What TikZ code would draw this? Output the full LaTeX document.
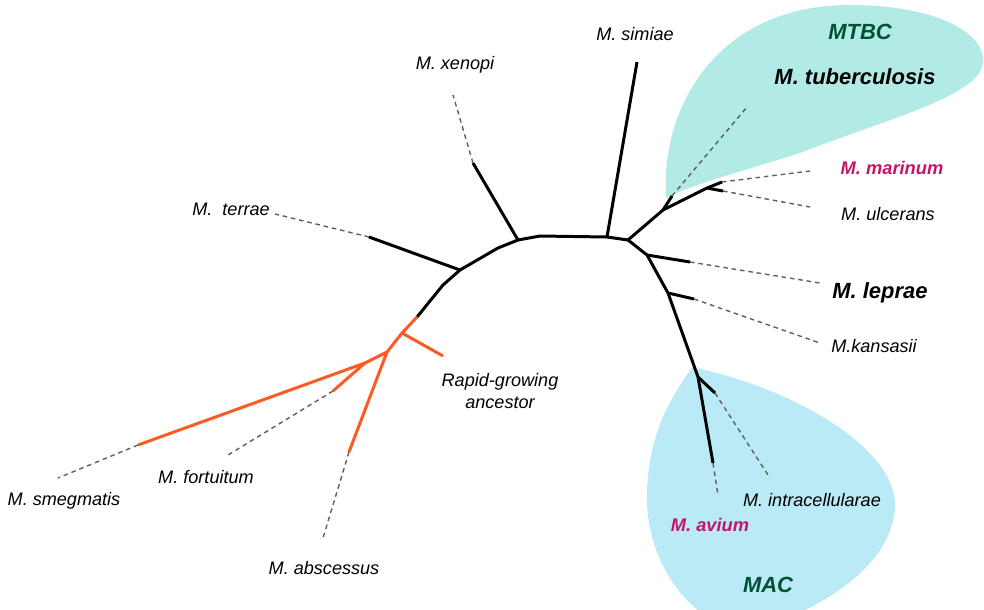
\documentclass[tikz,border=0pt]{standalone}
\usepackage{fontspec}
\setmainfont{Liberation Sans}
\usepackage{xcolor}
\usetikzlibrary{calc}
\definecolor{mtbcfill}{RGB}{178,234,230}
\definecolor{macfill}{RGB}{186,234,246}
\definecolor{rapidorange}{RGB}{255,90,34}
\definecolor{cladegreen}{RGB}{0,82,52}
\definecolor{speciesred}{RGB}{192,22,102}
\definecolor{leadgray}{RGB}{95,95,95}

\begin{document}
\begin{tikzpicture}[x=0.02cm,y=-0.02cm,
  branch/.style={line width=1.7pt,line join=round},
  rapid/.style={branch,draw=rapidorange},
  lead/.style={draw=leadgray,line width=0.8pt,dash pattern=on 2.6pt off 2.2pt},
  sp/.style={inner sep=0pt,font=\fontsize{10.3}{12.5}\selectfont\itshape},
  spbig/.style={inner sep=0pt,font=\fontsize{12.5}{15}\selectfont\bfseries\itshape},
  sphi/.style={sp,font=\fontsize{10.4}{12.5}\selectfont\bfseries\itshape,text=speciesred},
  clade/.style={spbig,text=cladegreen}]
  \useasboundingbox (0,0) rectangle (984,609);
  % clade backgrounds
  \fill[mtbcfill] (666,198) .. controls (660,110) and (715,5) .. (850,5)
    .. controls (930,5) and (985,30) .. (983,62)
    .. controls (982,95) and (890,118) .. (800,153)
    .. controls (740,172) and (690,185) .. (666,198) -- cycle;
  \fill[macfill] (692,367) .. controls (800,390) and (895,450) .. (895,505)
    .. controls (895,555) and (840,595) .. (800,612) -- (700,612)
    .. controls (660,580) and (645,530) .. (647,490)
    .. controls (650,430) and (670,400) .. (692,367) -- cycle;

  % tree points
  \coordinate (r0) at (387,352);
  \coordinate (r1) at (402,333);
  \coordinate (r2) at (417,317);
  \coordinate (b1) at (443,285);
  \coordinate (b2) at (460,270);
  \coordinate (b3) at (498,248);
  \coordinate (b4) at (518,240);
  \coordinate (b5) at (540,236);
  \coordinate (b6) at (607,237);
  \coordinate (b7) at (628,240);
  \coordinate (c1) at (663,210);
  \coordinate (c2) at (707,188);
  \coordinate (d1) at (647,255);
  \coordinate (d2) at (668,293);
  \coordinate (d3) at (698,377);
  \coordinate (s1) at (365,363);
  % tips
  \coordinate (terrae) at (369,237);
  \coordinate (xenopi) at (473,163);
  \coordinate (simiae) at (637,62);
  \coordinate (tb) at (672,196);
  \coordinate (marinum) at (722,182);
  \coordinate (ulcerans) at (723,191);
  \coordinate (leprae) at (690,262);
  \coordinate (kansasii) at (694,299);
  \coordinate (intra) at (715,393);
  \coordinate (avium) at (713,463);
  \coordinate (rapidtip) at (443,356);
  \coordinate (smeg) at (138,445);
  \coordinate (fort) at (333,391);
  \coordinate (absc) at (349,452);

  \draw[branch] (r2)--(b1)--(b2)--(b3)--(b4)--(b5)--(b6)--(b7)--(d1)--(d2)--(d3)--(avium);
  \draw[branch] (b2)--(terrae);
  \draw[branch] (b4)--(xenopi);
  \draw[branch] (b6)--(simiae);
  \draw[branch] (b7)--(c1)--(c2)--(marinum);
  \draw[branch] (c2)--(ulcerans);
  \draw[branch] (c1)--(tb);
  \draw[branch] (d1)--(leprae);
  \draw[branch] (d2)--(kansasii);
  \draw[branch] (d3)--(intra);
  \draw[rapid] (r2)--(r1)--(r0)--(s1)--(smeg);
  \draw[rapid] (r1)--(rapidtip);
  \draw[rapid] (s1)--(fort);
  \draw[rapid] (r0)--(absc);

  % leader ends
  \coordinate (terraeL) at (275,214);
  \coordinate (xenopiL) at (453,95);
  \coordinate (tbL) at (747,107);
  \coordinate (marinumL) at (810,171);
  \coordinate (ulceransL) at (810,207);
  \coordinate (lepraeL) at (820,283);
  \coordinate (kansasiiL) at (820,343);
  \coordinate (intraL) at (770,478);
  \coordinate (aviumL) at (718,495);
  \coordinate (smegL) at (58,478);
  \coordinate (fortL) at (228,455);
  \coordinate (abscL) at (323,538);
  \foreach \t in {terrae,xenopi,tb,marinum,ulcerans,leprae,kansasii,intra,avium,smeg,fort,absc}
    \draw[lead] (\t)--(\t L);

  % labels
  \node[sp] (nsimiae) at (635,34) {M. simiae};
  \node[sp] (nxenopi) at (455,65) {M. xenopi};
  \node[sp] (nterrae) at (231,209) {M.\ \ terrae};
  \node[clade] (nmtbc) at (860,32) {MTBC};
  \node[spbig] (ntb) at (855,77) {M. tuberculosis};
  \node[sphi] (nmarinum) at (892,168) {M. marinum};
  \node[sp] (nulcerans) at (888,214) {M. ulcerans};
  \node[spbig] (nleprae) at (880,293) {M. leprae};
  \node[sp] (nkansasii) at (874,346) {M.kansasii};
  \node[sp] (nintra) at (812,500) {M. intracellularae};
  \node[sphi] (navium) at (710,525) {M. avium};
  \node[clade] (nmac) at (768,585) {MAC};
  \node[sp,align=center] (nrapid) at (500,391) {Rapid-growing\\ancestor};
  \node[sp] (nfort) at (206,477) {M. fortuitum};
  \node[sp] (nsmeg) at (64,501) {M. smegmatis};
  \node[sp] (nabsc) at (324,568) {M. abscessus};
\end{tikzpicture}
\end{document}
